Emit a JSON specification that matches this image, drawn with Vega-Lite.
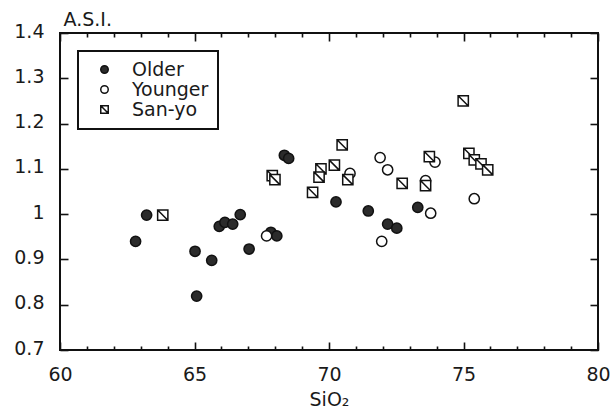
{
  "$schema": "https://vega.github.io/schema/vega-lite/v6.json",
  "width": 538,
  "height": 317,
  "autosize": {"type": "none"},
  "padding": {"left": 60, "top": 33, "right": 12, "bottom": 66},
  "background": "white",
  "config": {
    "view": {"stroke": "#111", "strokeWidth": 2},
    "axis": {
      "domain": false,
      "grid": false,
      "labelFont": "DejaVu Sans",
      "labelFontSize": 19,
      "labelColor": "#1a1a1a",
      "titleFont": "DejaVu Sans",
      "titleFontSize": 19,
      "titleFontWeight": "normal",
      "titleColor": "#1a1a1a",
      "tickColor": "#111",
      "tickWidth": 1.6
    },
    "legend": {
      "labelFont": "DejaVu Sans", "labelFontSize": 19, "labelColor": "#1a1a1a",
      "symbolSize": 56, "symbolStrokeWidth": 1.5, "symbolOpacity": 1,
      "padding": 9, "strokeColor": "#111", "strokeWidth": 2, "fillColor": "white",
      "labelOffset": 18, "symbolOffset": 8, "rowPadding": 0, "labelLimit": 300
    }
  },
  "data": {
    "values": [
      {"SiO2": 63.22, "ASI": 0.998, "group": "Older"},
      {"SiO2": 62.81, "ASI": 0.940, "group": "Older"},
      {"SiO2": 65.02, "ASI": 0.918, "group": "Older"},
      {"SiO2": 65.64, "ASI": 0.898, "group": "Older"},
      {"SiO2": 65.08, "ASI": 0.819, "group": "Older"},
      {"SiO2": 65.92, "ASI": 0.973, "group": "Older"},
      {"SiO2": 66.13, "ASI": 0.982, "group": "Older"},
      {"SiO2": 66.42, "ASI": 0.978, "group": "Older"},
      {"SiO2": 66.70, "ASI": 0.999, "group": "Older"},
      {"SiO2": 67.03, "ASI": 0.923, "group": "Older"},
      {"SiO2": 67.84, "ASI": 0.960, "group": "Older"},
      {"SiO2": 68.06, "ASI": 0.952, "group": "Older"},
      {"SiO2": 68.34, "ASI": 1.130, "group": "Older"},
      {"SiO2": 68.50, "ASI": 1.123, "group": "Older"},
      {"SiO2": 70.26, "ASI": 1.027, "group": "Older"},
      {"SiO2": 71.46, "ASI": 1.007, "group": "Older"},
      {"SiO2": 72.18, "ASI": 0.978, "group": "Older"},
      {"SiO2": 72.52, "ASI": 0.969, "group": "Older"},
      {"SiO2": 73.30, "ASI": 1.015, "group": "Older"},
      {"SiO2": 67.68, "ASI": 0.952, "group": "Younger"},
      {"SiO2": 70.78, "ASI": 1.090, "group": "Younger"},
      {"SiO2": 71.90, "ASI": 1.125, "group": "Younger"},
      {"SiO2": 72.18, "ASI": 1.098, "group": "Younger"},
      {"SiO2": 71.96, "ASI": 0.940, "group": "Younger"},
      {"SiO2": 73.59, "ASI": 1.074, "group": "Younger"},
      {"SiO2": 73.94, "ASI": 1.115, "group": "Younger"},
      {"SiO2": 73.78, "ASI": 1.002, "group": "Younger"},
      {"SiO2": 75.40, "ASI": 1.034, "group": "Younger"},
      {"SiO2": 63.82, "ASI": 0.998, "group": "San-yo"},
      {"SiO2": 67.89, "ASI": 1.085, "group": "San-yo"},
      {"SiO2": 67.99, "ASI": 1.076, "group": "San-yo"},
      {"SiO2": 70.49, "ASI": 1.153, "group": "San-yo"},
      {"SiO2": 70.20, "ASI": 1.108, "group": "San-yo"},
      {"SiO2": 69.70, "ASI": 1.100, "group": "San-yo"},
      {"SiO2": 69.63, "ASI": 1.082, "group": "San-yo"},
      {"SiO2": 69.39, "ASI": 1.048, "group": "San-yo"},
      {"SiO2": 70.70, "ASI": 1.076, "group": "San-yo"},
      {"SiO2": 72.72, "ASI": 1.068, "group": "San-yo"},
      {"SiO2": 73.59, "ASI": 1.063, "group": "San-yo"},
      {"SiO2": 73.73, "ASI": 1.127, "group": "San-yo"},
      {"SiO2": 74.99, "ASI": 1.250, "group": "San-yo"},
      {"SiO2": 75.20, "ASI": 1.134, "group": "San-yo"},
      {"SiO2": 75.40, "ASI": 1.120, "group": "San-yo"},
      {"SiO2": 75.65, "ASI": 1.111, "group": "San-yo"},
      {"SiO2": 75.90, "ASI": 1.098, "group": "San-yo"}
    ]
  },
  "layer": [
    {
      "mark": {"type": "point", "filled": true, "strokeWidth": 1.5, "size": 105, "opacity": 1},
      "encoding": {
        "x": {
          "field": "SiO2", "type": "quantitative",
          "scale": {"domain": [60, 80], "nice": false, "zero": false},
          "axis": {
            "orient": "bottom", "values": [60, 65, 70, 75, 80], "ticks": false,
            "labelBaseline": "alphabetic", "labelPadding": 30, "labelFlush": false, "labelOverlap": false,
            "title": "SiO₂", "titleX": 269, "titleY": 55, "titleAlign": "center", "titleBaseline": "alphabetic"
          }
        },
        "y": {
          "field": "ASI", "type": "quantitative",
          "scale": {"domain": [0.7, 1.4], "nice": false, "zero": false},
          "axis": {
            "orient": "left", "values": [0.7, 0.8, 0.9, 1.0, 1.1, 1.2, 1.3, 1.4], "ticks": false,
            "format": ".2~f", "labelBaseline": "middle", "labelAlign": "right", "labelPadding": 16, "labelOffset": -2,
            "labelFlush": false, "labelOverlap": false,
            "title": "A.S.I.", "titleAngle": 0, "titleX": 3, "titleY": -8, "titleAlign": "left", "titleBaseline": "alphabetic"
          }
        },
        "fill": {
          "field": "group", "type": "nominal",
          "scale": {"domain": ["Older", "Younger", "San-yo"], "range": ["#2b2b2b", "#ffffff", "#ffffff"]},
          "legend": {"orient": "top-left", "offset": 18, "title": null}
        },
        "stroke": {
          "field": "group", "type": "nominal",
          "scale": {"domain": ["Older", "Younger", "San-yo"], "range": ["#111111", "#111111", "#111111"]},
          "legend": {"orient": "top-left", "offset": 18, "title": null}
        },
        "shape": {
          "field": "group", "type": "nominal",
          "scale": {"domain": ["Older", "Younger", "San-yo"], "range": ["circle", "circle", "M-1,-1H1V1H-1Z M-1,-1L1,1"]},
          "legend": {"orient": "top-left", "offset": 18, "title": null}
        }
      }
    },
    {
      "mark": {"type": "point", "opacity": 0},
      "encoding": {
        "x": {"field": "SiO2", "type": "quantitative",
          "axis": {"orient": "bottom", "values": [60, 65, 70, 75, 80], "labels": false, "ticks": true, "tickSize": -8, "title": null}},
        "y": {"field": "ASI", "type": "quantitative",
          "axis": {"orient": "left", "values": [0.7, 0.8, 0.9, 1.0, 1.1, 1.2, 1.3, 1.4], "labels": false, "ticks": true, "tickSize": -8, "title": null}}
      }
    },
    {
      "mark": {"type": "point", "opacity": 0},
      "encoding": {
        "x": {"field": "SiO2", "type": "quantitative",
          "axis": {"orient": "bottom", "values": [61, 62, 63, 64, 66, 67, 68, 69, 71, 72, 73, 74, 76, 77, 78, 79], "labels": false, "ticks": true, "tickSize": -4, "title": null}},
        "y": {"field": "ASI", "type": "quantitative",
          "axis": {"orient": "right", "values": [0.7, 0.8, 0.9, 1.0, 1.1, 1.2, 1.3, 1.4], "labels": false, "ticks": true, "tickSize": -8, "title": null}}
      }
    },
    {
      "mark": {"type": "point", "opacity": 0},
      "encoding": {
        "x": {"field": "SiO2", "type": "quantitative",
          "axis": {"orient": "top", "values": [60, 65, 70, 75, 80], "labels": false, "ticks": true, "tickSize": -8, "title": null}},
        "y": {"field": "ASI", "type": "quantitative", "axis": null}
      }
    },
    {
      "mark": {"type": "point", "opacity": 0},
      "encoding": {
        "x": {"field": "SiO2", "type": "quantitative",
          "axis": {"orient": "top", "values": [61, 62, 63, 64, 66, 67, 68, 69, 71, 72, 73, 74, 76, 77, 78, 79], "labels": false, "ticks": true, "tickSize": -4, "title": null}},
        "y": {"field": "ASI", "type": "quantitative", "axis": null}
      }
    }
  ],
  "resolve": {"axis": {"x": "independent", "y": "independent"}}
}
